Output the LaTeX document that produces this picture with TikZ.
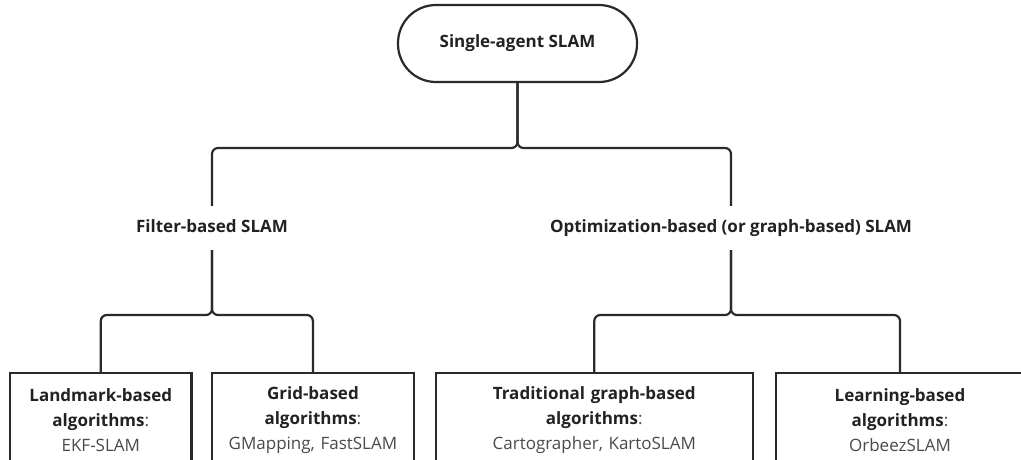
\documentclass[tikz,border=0pt]{standalone}
\usepackage{fontspec}
\setmainfont{Open Sans}
\definecolor{ln}{HTML}{2A2A2A}
\definecolor{tb}{HTML}{222222}
\definecolor{tr}{HTML}{4A4A4A}
\begin{document}
\begin{tikzpicture}[x=1pt,y=-1pt,
  conn/.style={draw=ln, line width=2.2pt, rounded corners=6pt},
  boxnode/.style={draw=ln, line width=2.4pt, anchor=north, align=center,
    font=\fontsize{17}{25}\selectfont, text=tb, minimum height=93pt, inner sep=0pt},
  lbl/.style={font=\fontsize{17}{20}\selectfont\bfseries, text=tb,
    text height=12pt, text depth=3pt, inner xsep=4pt, inner ysep=14.5pt},
  topnode/.style={draw=ln, line width=2.2pt, rounded corners=38pt, minimum width=239pt,
    minimum height=77pt, font=\fontsize{17}{20}\selectfont\bfseries, text=tb}
]
\useasboundingbox (0,0) rectangle (1021,459);
\clip (0,0) rectangle (1021,459);
\fill[white] (0,0) rectangle (1021,459);

\node[topnode] (top) at (517.5,43.5) {Single-agent SLAM};
\node[lbl] (filter) at (212,228) {Filter-based SLAM};
\node[lbl] (optim) at (731,228) {Optimization-based (or graph-based) SLAM};

\coordinate (h1) at (0,148);
\coordinate (h2) at (0,315);

\draw[conn] (top.south) -- (top.south |- h1) -| (filter.north);
\draw[conn] (top.south) -- (top.south |- h1) -| (optim.north);

\node[boxnode, minimum width=181.7pt, text width=175pt] (land) at (100.8,372)
  {\textbf{Landmark-based}\\\textbf{algorithms}{\color{tr}:}\\{\color{tr}EKF-SLAM}};
\node[boxnode, minimum width=202.3pt, text width=196pt] (grid) at (312.9,372)
  {\textbf{Grid-based}\\\textbf{algorithms}{\color{tr}:}\\{\color{tr}GMapping, FastSLAM}};
\node[boxnode, minimum width=317pt, text width=310pt] (trad) at (594.3,372)
  {\textbf{Traditional graph-based}\\\textbf{algorithms}{\color{tr}:}\\{\color{tr}Cartographer, KartoSLAM}};
\node[boxnode, minimum width=248pt, text width=240pt] (learn) at (900,372)
  {\textbf{Learning-based}\\\textbf{algorithms}{\color{tr}:}\\{\color{tr}OrbeezSLAM}};

\draw[conn] (filter.south) -- (filter.south |- h2) -| (land.north);
\draw[conn] (filter.south) -- (filter.south |- h2) -| (grid.north);
\draw[conn] (optim.south) -- (optim.south |- h2) -| (trad.north);
\draw[conn] (optim.south) -- (optim.south |- h2) -| (learn.north);
\end{tikzpicture}
\end{document}
